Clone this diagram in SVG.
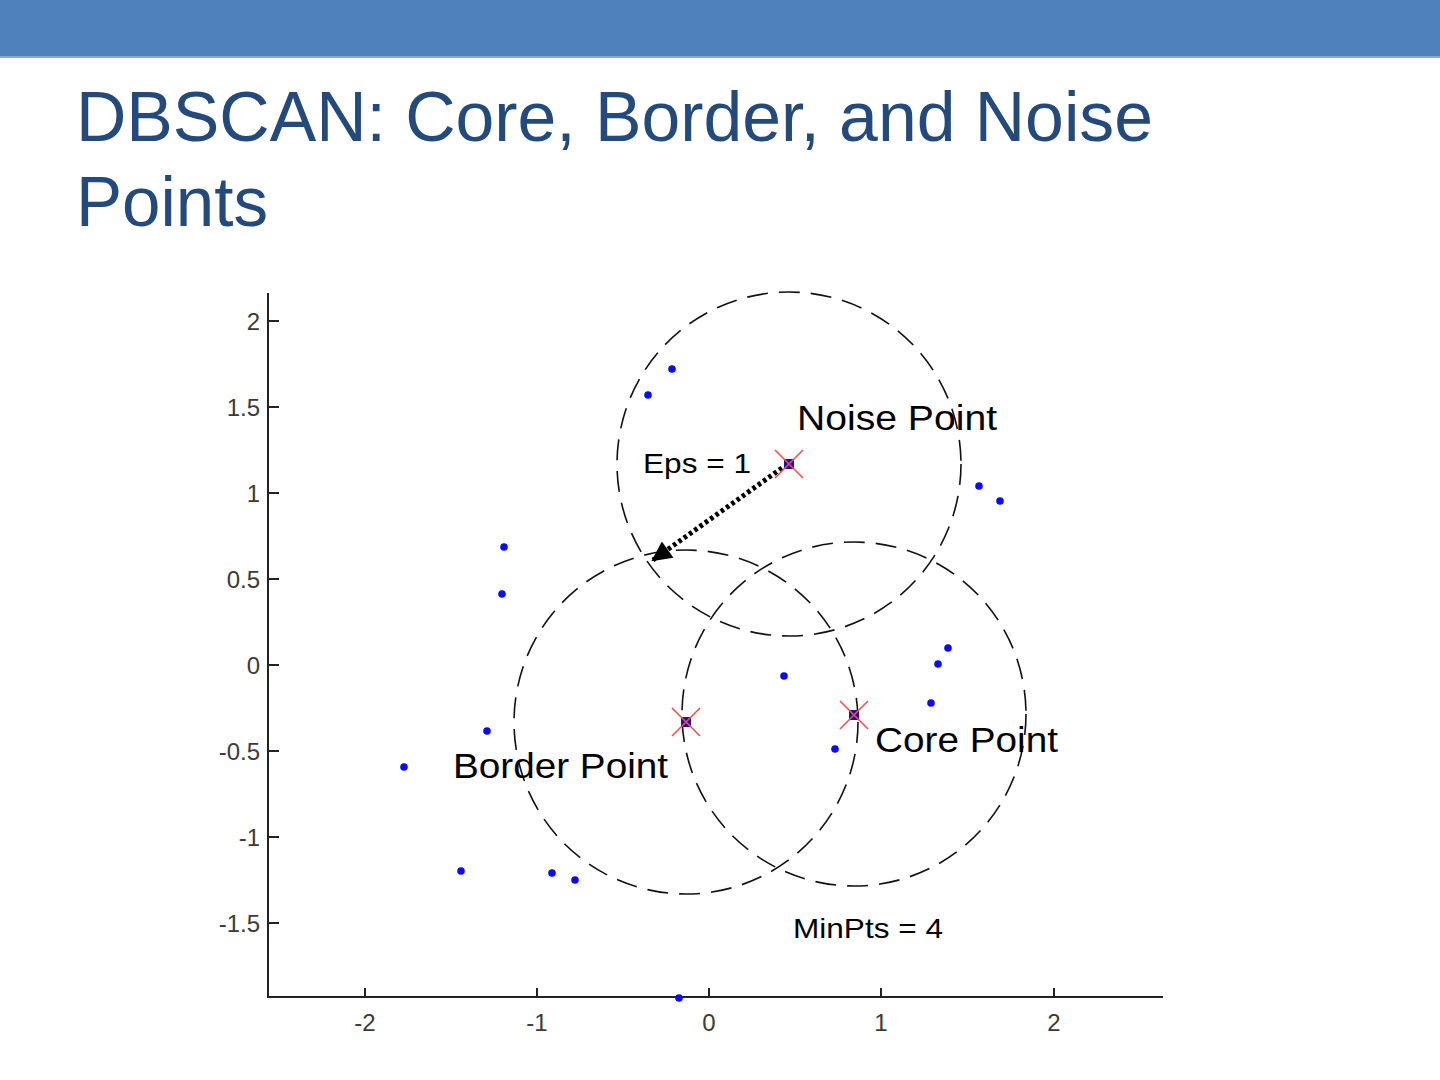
<svg xmlns="http://www.w3.org/2000/svg" width="1440" height="1080" viewBox="0 0 1440 1080">
<defs>
<style>
.title{font-family:"Liberation Sans",Arial,sans-serif;font-size:70px;fill:#24497b;}
.tick{font-family:"Liberation Sans",Arial,sans-serif;font-size:24px;fill:#3a3a3a;}
.lbl{font-family:"Liberation Sans",Arial,sans-serif;fill:#000;}
.axis{stroke:#222;stroke-width:2;fill:none;}
.eps{fill:none;stroke:#111;stroke-width:1.6;stroke-dasharray:21 11;}
.pt{fill:#0a0aff;}
.x{stroke:#f05050;stroke-width:1.6;}
.ctr{fill:#1e0ea0;}
</style>
<marker id="ah" viewBox="0 0 10 10" refX="9" refY="5" markerWidth="5" markerHeight="4" orient="auto" markerUnits="strokeWidth">
<path d="M0,0 L10,5 L0,10 z" fill="#000"/>
</marker>
<clipPath id="tclip"><rect x="0" y="60" width="1440" height="169"/></clipPath>
</defs>
<rect x="0" y="0" width="1440" height="1080" fill="#fff"/>
<rect x="0" y="0" width="1440" height="57" fill="#4f81bd"/>
<rect x="0" y="56" width="1440" height="2" fill="#8aa9d4"/>
<g clip-path="url(#tclip)">
<text class="title" x="76" y="141" textLength="1077" lengthAdjust="spacingAndGlyphs">DBSCAN: Core, Border, and Noise</text>
<text class="title" x="76" y="226" textLength="192" lengthAdjust="spacingAndGlyphs">Points</text>
</g>
<g id="axes">
<path class="axis" d="M268,293 V997 H1163"/>
<path class="axis" d="M268,321 h11 M268,407 h11 M268,493 h11 M268,579 h11 M268,665 h11 M268,751 h11 M268,837 h11 M268,923 h11"/>
<path class="axis" d="M365,997 v-9 M537,997 v-9 M709,997 v-9 M881,997 v-9 M1054,997 v-9"/>
<g class="tick" text-anchor="end">
<text x="260" y="330">2</text>
<text x="260" y="416">1.5</text>
<text x="260" y="502">1</text>
<text x="260" y="588">0.5</text>
<text x="260" y="674">0</text>
<text x="260" y="760">-0.5</text>
<text x="260" y="846">-1</text>
<text x="260" y="932">-1.5</text>
</g>
<g class="tick" text-anchor="middle">
<text x="365" y="1031">-2</text>
<text x="537" y="1031">-1</text>
<text x="709" y="1031">0</text>
<text x="881" y="1031">1</text>
<text x="1054" y="1031">2</text>
</g>
</g>
<g id="circles">
<circle class="eps" cx="789" cy="464" r="172"/>
<circle class="eps" cx="686" cy="722" r="172"/>
<circle class="eps" cx="854" cy="714" r="172"/>
</g>
<g id="points">
<circle class="pt" cx="672" cy="369" r="3.8"/>
<circle class="pt" cx="648" cy="395" r="3.8"/>
<circle class="pt" cx="979" cy="486" r="3.8"/>
<circle class="pt" cx="1000" cy="501" r="3.8"/>
<circle class="pt" cx="504" cy="547" r="3.8"/>
<circle class="pt" cx="502" cy="594" r="3.8"/>
<circle class="pt" cx="948" cy="648" r="3.8"/>
<circle class="pt" cx="938" cy="664" r="3.8"/>
<circle class="pt" cx="784" cy="676" r="3.8"/>
<circle class="pt" cx="931" cy="703" r="3.8"/>
<circle class="pt" cx="487" cy="731" r="3.8"/>
<circle class="pt" cx="835" cy="749" r="3.8"/>
<circle class="pt" cx="404" cy="767" r="3.8"/>
<circle class="pt" cx="461" cy="871" r="3.8"/>
<circle class="pt" cx="552" cy="873" r="3.8"/>
<circle class="pt" cx="575" cy="880" r="3.8"/>
<circle class="pt" cx="679" cy="998" r="3.8"/>
</g>
<g id="connectors">
<line x1="782" y1="468" x2="653" y2="560" stroke="#000" stroke-width="5" stroke-dasharray="3.5 3" marker-end="url(#ah)"/>
</g>
<g id="centers">
<rect class="ctr" x="784" y="459" width="10" height="10"/>
<path class="x" d="M775,450 L803,478 M803,450 L775,478"/>
<rect class="ctr" x="681" y="717" width="10" height="10"/>
<path class="x" d="M672,708 L700,736 M700,708 L672,736"/>
<rect class="ctr" x="849" y="710" width="10" height="10"/>
<path class="x" d="M840,701 L868,729 M868,701 L840,729"/>
</g>
<g id="labels" class="lbl">
<text x="797" y="430" font-size="35" textLength="200" lengthAdjust="spacingAndGlyphs">Noise Point</text>
<text x="643" y="473" font-size="28" textLength="108" lengthAdjust="spacingAndGlyphs">Eps = 1</text>
<text x="875" y="752" font-size="35" textLength="183" lengthAdjust="spacingAndGlyphs">Core Point</text>
<text x="453" y="778" font-size="35" textLength="215" lengthAdjust="spacingAndGlyphs">Border Point</text>
<text x="793" y="938" font-size="28" textLength="150" lengthAdjust="spacingAndGlyphs">MinPts = 4</text>
</g>
</svg>
